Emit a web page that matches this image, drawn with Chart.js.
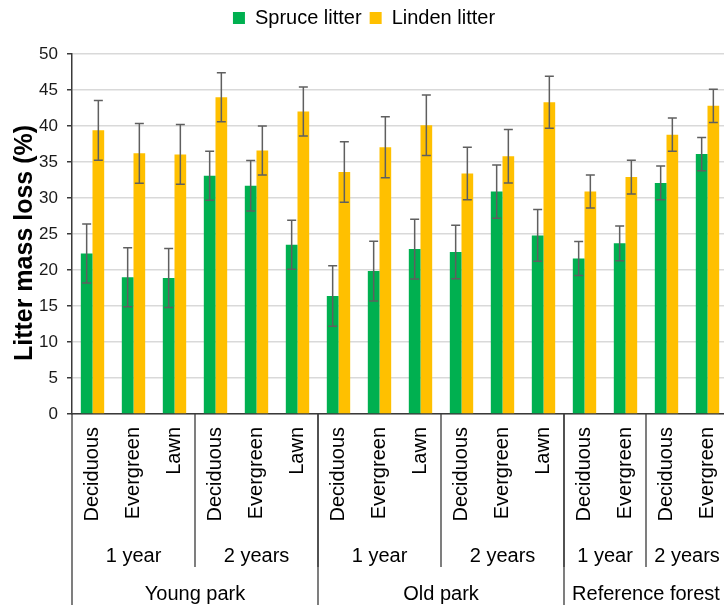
<!DOCTYPE html>
<html>
<head>
<meta charset="utf-8">
<script src="https://cdn.jsdelivr.net/npm/chart.js@4/dist/chart.umd.min.js"></script>
<style>
  html, body { margin: 0; padding: 0; background: #fff; overflow: hidden; }
  #wrap { width: 728px; height: 605px; }
</style>
</head>
<body>
<div id="wrap"><canvas id="c" width="728" height="605"></canvas></div>
<script>
// Litter mass loss after incubation, by site, period and cover type
const categories = ['Deciduous', 'Evergreen', 'Lawn', 'Deciduous', 'Evergreen', 'Lawn',
                    'Deciduous', 'Evergreen', 'Lawn', 'Deciduous', 'Evergreen', 'Lawn',
                    'Deciduous', 'Evergreen', 'Deciduous', 'Evergreen'];
const periods = ['1 year', '1 year', '1 year', '2 years', '2 years', '2 years',
                 '1 year', '1 year', '1 year', '2 years', '2 years', '2 years',
                 '1 year', '1 year', '2 years', '2 years'];
const sites = ['Young park', 'Young park', 'Young park', 'Young park', 'Young park', 'Young park',
               'Old park', 'Old park', 'Old park', 'Old park', 'Old park', 'Old park',
               'Reference forest', 'Reference forest', 'Reference forest', 'Reference forest'];

const spruce    = [22.3, 19.0, 18.9, 33.1, 31.7, 23.5, 16.4, 19.85, 22.9, 22.5, 30.9, 24.8, 21.6, 23.7, 32.1, 36.1];
const spruceErr = [4.1, 4.1, 4.1, 3.4, 3.5, 3.4, 4.2, 4.15, 4.15, 3.7, 3.7, 3.6, 2.35, 2.4, 2.35, 2.3];
const linden    = [39.4, 36.2, 36.05, 44.0, 36.6, 42.0, 33.6, 37.05, 40.1, 33.4, 35.8, 43.3, 30.9, 32.9, 38.8, 42.8];
const lindenErr = [4.15, 4.15, 4.15, 3.4, 3.4, 3.4, 4.2, 4.25, 4.2, 3.65, 3.7, 3.6, 2.3, 2.35, 2.3, 2.3];

const yTicks = { min: 0, max: 50, step: 5 };

const FONT = "'Liberation Sans', Arial, sans-serif";
const LINE = '#3a3a3a';

// consecutive runs of equal labels -> [{label, from, to}]
function runs(arr) {
  const out = [];
  arr.forEach((v, i) => {
    const last = out[out.length - 1];
    if (last && last.label === v && last.to === i - 1) last.to = i;
    else out.push({ label: v, from: i, to: i });
  });
  return out;
}
function periodRuns() {
  const keys = periods.map((p, i) => sites[i] + '|' + p);
  return runs(keys).map(r => ({ label: periods[r.from], from: r.from, to: r.to }));
}

// whiskers on top of each bar
const errorBars = {
  id: 'errorBars',
  afterDatasetsDraw(chart) {
    const ctx = chart.ctx;
    const y = chart.scales.y;
    const errs = [spruceErr, lindenErr];
    ctx.save();
    ctx.strokeStyle = '#5f5f5f';
    ctx.lineWidth = 1.5;
    chart.data.datasets.forEach((ds, di) => {
      const meta = chart.getDatasetMeta(di);
      meta.data.forEach((bar, i) => {
        const v = ds.data[i], e = errs[di][i];
        const x = bar.x;
        const yt = y.getPixelForValue(v + e);
        const yb = y.getPixelForValue(v - e);
        const cap = 4.5;
        ctx.beginPath();
        ctx.moveTo(x, yt); ctx.lineTo(x, yb);
        ctx.moveTo(x - cap, yt); ctx.lineTo(x + cap, yt);
        ctx.moveTo(x - cap, yb); ctx.lineTo(x + cap, yb);
        ctx.stroke();
      });
    });
    ctx.restore();
  }
};

// period / site group labels under the category axis, plus the y-axis title
const groupAxis = {
  id: 'groupAxis',
  afterDraw(chart) {
    const ctx = chart.ctx;
    const xs = chart.scales.x;
    const area = chart.chartArea;
    const half = (xs.getPixelForValue(1) - xs.getPixelForValue(0)) / 2;
    const edgeL = i => xs.getPixelForValue(i) - half;
    const edgeR = i => xs.getPixelForValue(i) + half;
    const bottom = chart.height;
    ctx.save();
    ctx.strokeStyle = LINE;
    ctx.lineWidth = 1.3;
    ctx.fillStyle = '#000';
    ctx.font = '20px ' + FONT;
    ctx.textAlign = 'center';
    ctx.textBaseline = 'alphabetic';

    const pr = periodRuns();
    pr.forEach(r => {
      ctx.fillText(r.label, (edgeL(r.from) + edgeR(r.to)) / 2, 561.5);
      if (r.from > 0) {
        ctx.beginPath();
        ctx.moveTo(edgeL(r.from), area.bottom);
        ctx.lineTo(edgeL(r.from), 567);
        ctx.stroke();
      }
    });
    runs(sites).forEach(r => {
      ctx.fillText(r.label, (edgeL(r.from) + edgeR(r.to)) / 2, 600);
      ctx.beginPath();
      ctx.moveTo(edgeL(r.from), area.bottom);
      ctx.lineTo(edgeL(r.from), bottom);
      ctx.stroke();
    });

    // y-axis title
    ctx.font = 'bold 25px ' + FONT;
    ctx.translate(32, 243);
    ctx.rotate(-Math.PI / 2);
    ctx.textAlign = 'center';
    ctx.fillText('Litter mass loss (%)', 0, 0);
    ctx.restore();
  }
};

// reserve the band above the plot for the legend
const legendHeight = {
  id: 'legendHeight',
  beforeInit(chart) {
    const fit = chart.legend.fit;
    chart.legend.fit = function () {
      fit.call(this);
      this.height = 54;
    };
  }
};

new Chart(document.getElementById('c'), {
  type: 'bar',
  data: {
    labels: categories,
    datasets: [
      { label: 'Spruce litter', data: spruce, backgroundColor: '#00B050', borderWidth: 0 },
      { label: 'Linden litter', data: linden, backgroundColor: '#FFC000', borderWidth: 0 }
    ]
  },
  options: {
    responsive: false,
    animation: false,
    devicePixelRatio: 1,
    layout: { padding: 0 },
    datasets: { bar: { categoryPercentage: 0.57, barPercentage: 1.0 } },
    plugins: {
      legend: {
        position: 'top',
        align: 'center',
        labels: {
          boxWidth: 12, boxHeight: 12, padding: 8,
          color: '#000',
          font: { family: FONT, size: 20 }
        }
      },
      tooltip: { enabled: false }
    },
    scales: {
      x: {
        offset: true,
        grid: { display: false, drawTicks: false },
        border: { display: true, color: LINE, width: 1.5 },
        ticks: {
          autoSkip: false, minRotation: 90, maxRotation: 90,
          padding: 13, color: '#000',
          font: { family: FONT, size: 20 }
        },
        afterFit(scale) {
          scale.height = 191;
          scale.paddingLeft = 0;
          scale.paddingRight = 0;
        }
      },
      y: {
        min: yTicks.min, max: yTicks.max,
        grid: { color: '#d9d9d9', lineWidth: 1.5, tickColor: LINE, tickLength: 5 },
        border: { display: true, color: LINE, width: 1.5 },
        ticks: {
          stepSize: yTicks.step, padding: 9, color: '#1a1a1a',
          font: { family: FONT, size: 17 }
        },
        afterFit(scale) { scale.width = 72; }
      }
    }
  },
  plugins: [errorBars, groupAxis, legendHeight]
});
</script>
</body>
</html>
